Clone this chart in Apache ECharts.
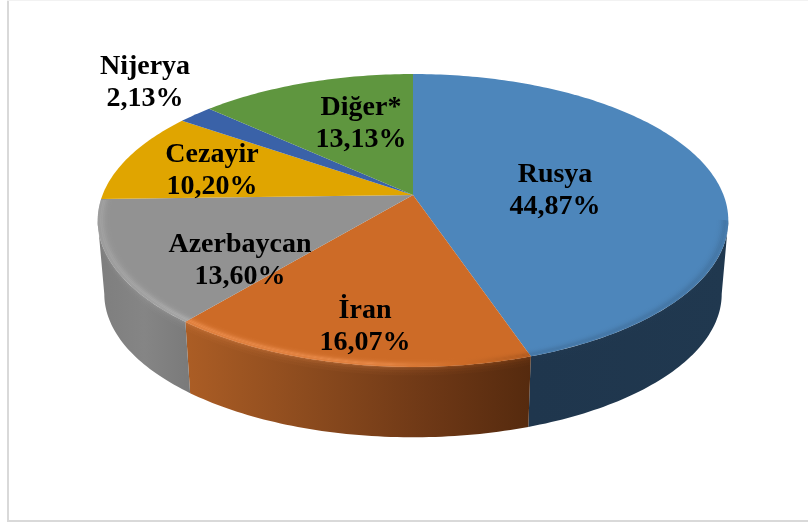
<!DOCTYPE html>
<html><head><meta charset="utf-8">
<style>html,body{margin:0;padding:0;background:#fff}#c{width:808px;height:522px}</style>
<script src="https://cdn.jsdelivr.net/npm/echarts@6/dist/echarts.min.js"></script>
</head><body><div id="c"></div>
<script>
const categories = ['Rusya','İran','Azerbaycan','Cezayir','Nijerya','Diğer*'];
const shares = [44.87,16.07,13.60,10.20,2.13,13.13];
const shareLabels = ['44,87%','16,07%','13,60%','10,20%','2,13%','13,13%'];
const topColors = ['#4d86bb','#cd6b27','#929292','#e0a500','#3a62a8','#5f963f'];

// layout of the perspective disc
const K = 0.174;
const TOP = {x:413,y:195,a:310.5,b:142};
const BOT = {x:413,y:269,a:304,b:139};
const labelAnchors = [[555,188],[365,324],[240,258],[212,168],[145,80],[361,121]];
const LG = echarts.graphic.LinearGradient;
const wallFills = [
  new LG(530,0,730,0,[{offset:0,color:'#1f364d'},{offset:1,color:'#20384f'}],true),
  new LG(187,0,531,0,[{offset:0,color:'#ab5d25'},{offset:.35,color:'#8c4b1e'},{offset:.7,color:'#6e3816'},{offset:1,color:'#552a0e'}],true),
  new LG(98,0,190,0,[{offset:0,color:'#7e7e7e'},{offset:.5,color:'#858585'},{offset:1,color:'#7a7a7a'}],true)
];
const rimFills = [
  new LG(530,0,730,0,[{offset:0,color:'#2c4a68'},{offset:1,color:'#2c4a68'}],true),
  new LG(187,0,531,0,[{offset:0,color:'#ee9050'},{offset:.55,color:'#ee9050'},{offset:.8,color:'#cd6b27'},{offset:1,color:'#a8561e'}],true),
  new LG(98,0,190,0,[{offset:0,color:'#a8a8a8'},{offset:1,color:'#bababa'}],true)
];
const rimStrength = [.3,1,.8];
// soft bevel: thin rings whose opacity rises towards the rim edge
const topBands = [[.962,.968,.04],[.968,.973,.1],[.973,.978,.22],[.978,.983,.42],[.983,.988,.68],[.988,.993,.8],[.993,1,.6]];
const wallBands = [[0,.02,.3],[.02,.045,.18],[.045,.08,.09],[.08,.12,.04]];
const total = shares.reduce((s,v)=>s+v,0);
function sliceRange(i){
  let before = 0; for(let j=0;j<i;j++) before += shares[j];
  return [before/total*360,(before+shares[i])/total*360];
}
function project(L,deg,r){
  const t = deg*Math.PI/180, u = r*Math.sin(t), v = r*Math.cos(t), d = 1+K*v;
  return [L.x+L.a*u/d, L.y-L.b*v/d];
}
function arc(L,a0,a1,r){
  const n = Math.max(2,Math.ceil(Math.abs(a1-a0))), out=[];
  for(let i=0;i<=n;i++) out.push(project(L,a0+(a1-a0)*i/n,r));
  return out;
}
function between(t){
  const o={}; for(const k of ['x','y','a','b']) o[k]=TOP[k]+(BOT[k]-TOP[k])*t; return o;
}
const VIS = [100,260];
const chart = echarts.init(document.getElementById('c'),null,{renderer:'canvas'});
const data = shares.map((v,i)=>({name:categories[i],value:[v,i]}));
chart.setOption({
  animation:false,
  backgroundColor:'#fff',
  graphic:[
    {type:'rect',shape:{x:7,y:0,width:2,height:522},style:{fill:'#d9d9d9'},silent:true},
    {type:'rect',shape:{x:7,y:0,width:801,height:1},style:{fill:'#f2f2f2'},silent:true},
    {type:'rect',shape:{x:7,y:520,width:801,height:2},style:{fill:'#d9d9d9'},silent:true}
  ],
  series:[
    {type:'custom',coordinateSystem:'none',data,z:1,silent:true,
     renderItem(p,api){
       const i=api.value(1),[a0,a1]=sliceRange(i);
       const s=Math.max(a0,VIS[0]),e=Math.min(a1,VIS[1]);
       if(e<=s) return {type:'group',children:[]};
       const kids=[{type:'polygon',shape:{points:arc(TOP,s,e,1).concat(arc(BOT,e,s,1))},style:{fill:wallFills[i]}}];
       wallBands.forEach(([t0,t1,al])=>{
         kids.push({type:'polygon',shape:{points:arc(between(t0),s,e,1).concat(arc(between(t1),e,s,1))},
           style:{fill:rimFills[i],opacity:al*rimStrength[i]}});
       });
       return {type:'group',children:kids};
     }},
    {type:'custom',coordinateSystem:'none',data,z:2,silent:true,
     renderItem(p,api){
       const i=api.value(1),[a0,a1]=sliceRange(i);
       const pts=[project(TOP,0,0)].concat(arc(TOP,a0,a1,1));
       const kids=[{type:'polygon',shape:{points:pts},style:{fill:topColors[i]}}];
       const s=Math.max(a0,VIS[0]),e=Math.min(a1,VIS[1]+8);
       if(e>s && i<3){
         topBands.forEach(([n,o,al])=>{
           kids.push({type:'polygon',shape:{points:arc(TOP,s,e,o).concat(arc(TOP,e,s,n))},
             style:{fill:rimFills[i],opacity:al*rimStrength[i]}});
         });
       }
       return {type:'group',children:kids};
     }},
    {type:'custom',coordinateSystem:'none',data,z:3,silent:true,
     renderItem(p,api){
       const i=api.value(1);
       return {type:'text',x:labelAnchors[i][0],y:labelAnchors[i][1]+3,
         style:{text:categories[i]+'\n'+shareLabels[i],fill:'#000',
           font:'bold 28px "Liberation Serif"',lineHeight:32,align:'center',verticalAlign:'middle'}};
     }}
  ]
});
</script></body></html>
